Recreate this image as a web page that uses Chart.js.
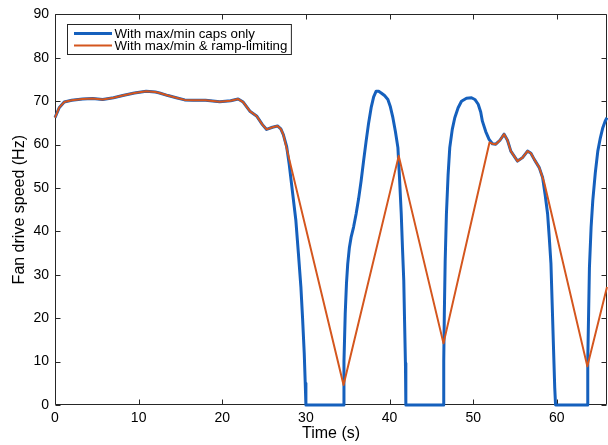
<!DOCTYPE html>
<html>
<head>
<meta charset="utf-8">
<script src="https://cdn.jsdelivr.net/npm/chart.js@4"></script>
<style>
html,body{margin:0;padding:0;background:#fff;}
#wrap{width:608px;height:445px;position:relative;}
</style>
</head>
<body>
<div id="wrap"><canvas id="c" width="608" height="445"></canvas></div>
<script>
// ---- data ----
const seriesLabels = ["With max/min caps only", "With max/min & ramp-limiting"];
const xTicks = [0, 10, 20, 30, 40, 50, 60];
const yTicks = [0, 10, 20, 30, 40, 50, 60, 70, 80, 90];

// shared start (both series identical)
const commonTime = [0, 0.5, 1.1, 2, 3.3, 4.5, 5.7, 7, 8.1, 9.5, 10.9, 12, 12.5, 13.5, 14.5, 15.5, 16.5, 18, 19.7, 21, 21.9, 22.5, 23.3, 24.1, 24.8, 25.3, 26, 26.6, 27.0, 27.3];
const commonSpeed = [66.2, 68.5, 69.8, 70.2, 70.5, 70.6, 70.4, 70.8, 71.3, 71.9, 72.3, 72.1, 71.9, 71.3, 70.8, 70.3, 70.2, 70.2, 69.9, 70.1, 70.5, 69.8, 67.7, 66.6, 64.6, 63.5, 64.0, 64.3, 63.6, 62.3];

// caps-only series after the shared start
const capsTime = [27.7, 28.0, 28.4, 28.8, 29.1, 29.4, 29.6, 29.8, 29.92, 30.0,
  34.5, 34.55, 34.7, 34.85, 35.0, 35.2, 35.4, 35.7, 36.0, 36.3, 36.6, 36.9, 37.2, 37.5, 37.8, 38.1, 38.4, 38.7, 39.0, 39.4, 39.8, 40.1, 40.4, 40.7, 41.0, 41.2, 41.4, 41.55, 41.7, 41.8, 41.9, 41.95,
  46.45, 46.48, 46.55, 46.65, 46.8, 47.0, 47.2, 47.5, 47.8, 48.2, 48.6, 49.2, 49.8, 50.2, 50.6, 50.9, 51.1, 51.5, 51.9, 52.3, 52.7, 53.2, 53.7, 54.1, 54.5, 55.3, 55.9, 56.5, 56.9, 57.3, 57.9, 58.3, 58.6, 58.9, 59.1, 59.3, 59.45, 59.6, 59.75, 59.85,
  63.65, 63.7, 63.9, 64.1, 64.3, 64.6, 64.9, 65.2, 65.5, 65.8, 66];
const capsSpeed = [59.5, 55.5, 49.0, 42.5, 35.0, 27.2, 20.0, 11.9, 5.0, 0,
  0, 10, 21, 28, 32.5, 36.3, 38.6, 41, 44, 47.5, 51.6, 56.3, 60.8, 65, 68.5, 71, 72.3, 72.3, 71.9, 71.3, 70.4, 68.7, 66.2, 63, 59.3, 52, 44, 36, 28.7, 19, 9.6, 0,
  0, 10, 21, 33, 44, 53, 59.3, 63.5, 66.2, 68.5, 70.0, 70.7, 70.8, 70.4, 69.3, 67.5, 65.4, 63, 61.2, 60.2, 60.1, 61.0, 62.4, 61.0, 58.5, 56.2, 57.0, 58.5, 58.0, 56.6, 54.7, 52.4, 48.5, 44, 38.5, 32.5, 23, 13.4, 4, 0,
  0, 10.3, 31.7, 41, 47.1, 53.5, 58.5, 61.5, 63.9, 65.5, 66.2];

// ramp-limited series after the shared start
const rampTime = [34.5, 41.1, 46.45, 51.95, 52.3, 52.7, 53.2, 53.7, 54.1, 54.5, 55.3, 55.9, 56.5, 56.9, 57.3, 57.9, 58.3, 58.5, 63.65, 66];
const rampSpeed = [4.6, 57.4, 14.2, 60.5, 60.2, 60.1, 61.0, 62.4, 61.0, 58.5, 56.2, 57.0, 58.5, 58.0, 56.6, 54.7, 52.4, 51.2, 8.9, 27.2];

const blueColor = "#1560BD";
const orangeColor = "#D4561E";
const axisColor = "#262626";
const fontFam = "'Liberation Sans', Arial, Helvetica, sans-serif";

function pts(ts, vs) { return ts.map((t, i) => ({ x: t, y: vs[i] })); }
const capsData = pts(commonTime, commonSpeed).concat(pts(capsTime, capsSpeed));
const rampData = pts(commonTime, commonSpeed).concat(pts(rampTime, rampSpeed));

const framePlugin = {
  id: 'frame',
  beforeDatasetsDraw(chart) {
    const ctx = chart.ctx, a = chart.chartArea;
    const xs = chart.scales.x, ys = chart.scales.y;
    ctx.save();
    ctx.strokeStyle = axisColor;
    ctx.lineWidth = 1;
    const L = Math.round(a.left) + 0.5, R = Math.round(a.right) - 0.5;
    const T = Math.round(a.top) + 0.5, B = Math.round(a.bottom) - 0.5;
    ctx.beginPath();
    ctx.rect(L, T, R - L, B - T);
    ctx.stroke();
    const tl = 5;
    ctx.beginPath();
    xTicks.forEach(v => {
      const px = Math.round(xs.getPixelForValue(v)) + 0.5;
      ctx.moveTo(px, B); ctx.lineTo(px, B - tl);
      ctx.moveTo(px, T); ctx.lineTo(px, T + tl);
    });
    yTicks.forEach(v => {
      const py = Math.round(ys.getPixelForValue(v)) + 0.5;
      ctx.moveTo(L, py); ctx.lineTo(L + tl, py);
      ctx.moveTo(R, py); ctx.lineTo(R - tl, py);
    });
    ctx.stroke();

    // legend box
    ctx.font = "13.3px " + fontFam;
    const w = Math.max(...seriesLabels.map(s => ctx.measureText(s).width));
    const bx = 67.5, by = 24.5;
    const lineX0 = 74, lineX1 = 112, textX = 114.5;
    const bw = textX + w + 4 - bx, bh = 30;
    ctx.fillStyle = '#fff';
    ctx.fillRect(bx, by, bw, bh);
    ctx.strokeStyle = axisColor;
    ctx.strokeRect(bx, by, bw, bh);
    const rows = [33.5, 45.5];
    const cols = [blueColor, orangeColor];
    const widths = [3, 2];
    rows.forEach((ry, i) => {
      ctx.beginPath();
      ctx.strokeStyle = cols[i];
      ctx.lineWidth = widths[i];
      ctx.moveTo(lineX0, ry); ctx.lineTo(lineX1, ry);
      ctx.stroke();
      ctx.fillStyle = '#000';
      ctx.textBaseline = 'middle';
      ctx.textAlign = 'left';
      ctx.fillText(seriesLabels[i], textX, ry + 0.5);
    });
    ctx.restore();
  }
};

new Chart(document.getElementById('c'), {
  type: 'line',
  data: {
    datasets: [
      { label: seriesLabels[0], data: capsData, borderColor: blueColor, borderWidth: 3, pointRadius: 0, tension: 0, order: 1, fill: false, clip: 4, borderJoinStyle: 'round' },
      { label: seriesLabels[1], data: rampData, borderColor: orangeColor, borderWidth: 2, pointRadius: 0, tension: 0, order: 0, fill: false, clip: 4, borderJoinStyle: 'round' }
    ]
  },
  options: {
    responsive: false,
    animation: false,
    devicePixelRatio: 1,
    layout: { padding: { top: 13, right: 1, left: 0, bottom: 0 } },
    plugins: { legend: { display: false }, tooltip: { enabled: false } },
    scales: {
      x: {
        type: 'linear', min: 0, max: 66,
        afterBuildTicks: s => { s.ticks = xTicks.map(v => ({ value: v })); },
        afterFit: s => { s.height = 40; },
        grid: { display: false, drawTicks: false },
        border: { display: false },
        ticks: { color: '#000', font: { family: fontFam, size: 14 }, padding: 5, maxRotation: 0, autoSkip: false },
        title: { display: true, text: 'Time (s)', color: '#000', font: { family: fontFam, size: 16 }, padding: { top: 0, bottom: 2 } }
      },
      y: {
        type: 'linear', min: 0, max: 90,
        afterBuildTicks: s => { s.ticks = yTicks.map(v => ({ value: v })); },
        afterFit: s => { s.width = 55; },
        grid: { display: false, drawTicks: false },
        border: { display: false },
        ticks: { color: '#000', font: { family: fontFam, size: 14 }, padding: 6, autoSkip: false },
        title: { display: true, text: 'Fan drive speed (Hz)', color: '#000', font: { family: fontFam, size: 16 }, padding: { top: 10, bottom: 0 } }
      }
    }
  },
  plugins: [framePlugin]
});
</script>
</body>
</html>
